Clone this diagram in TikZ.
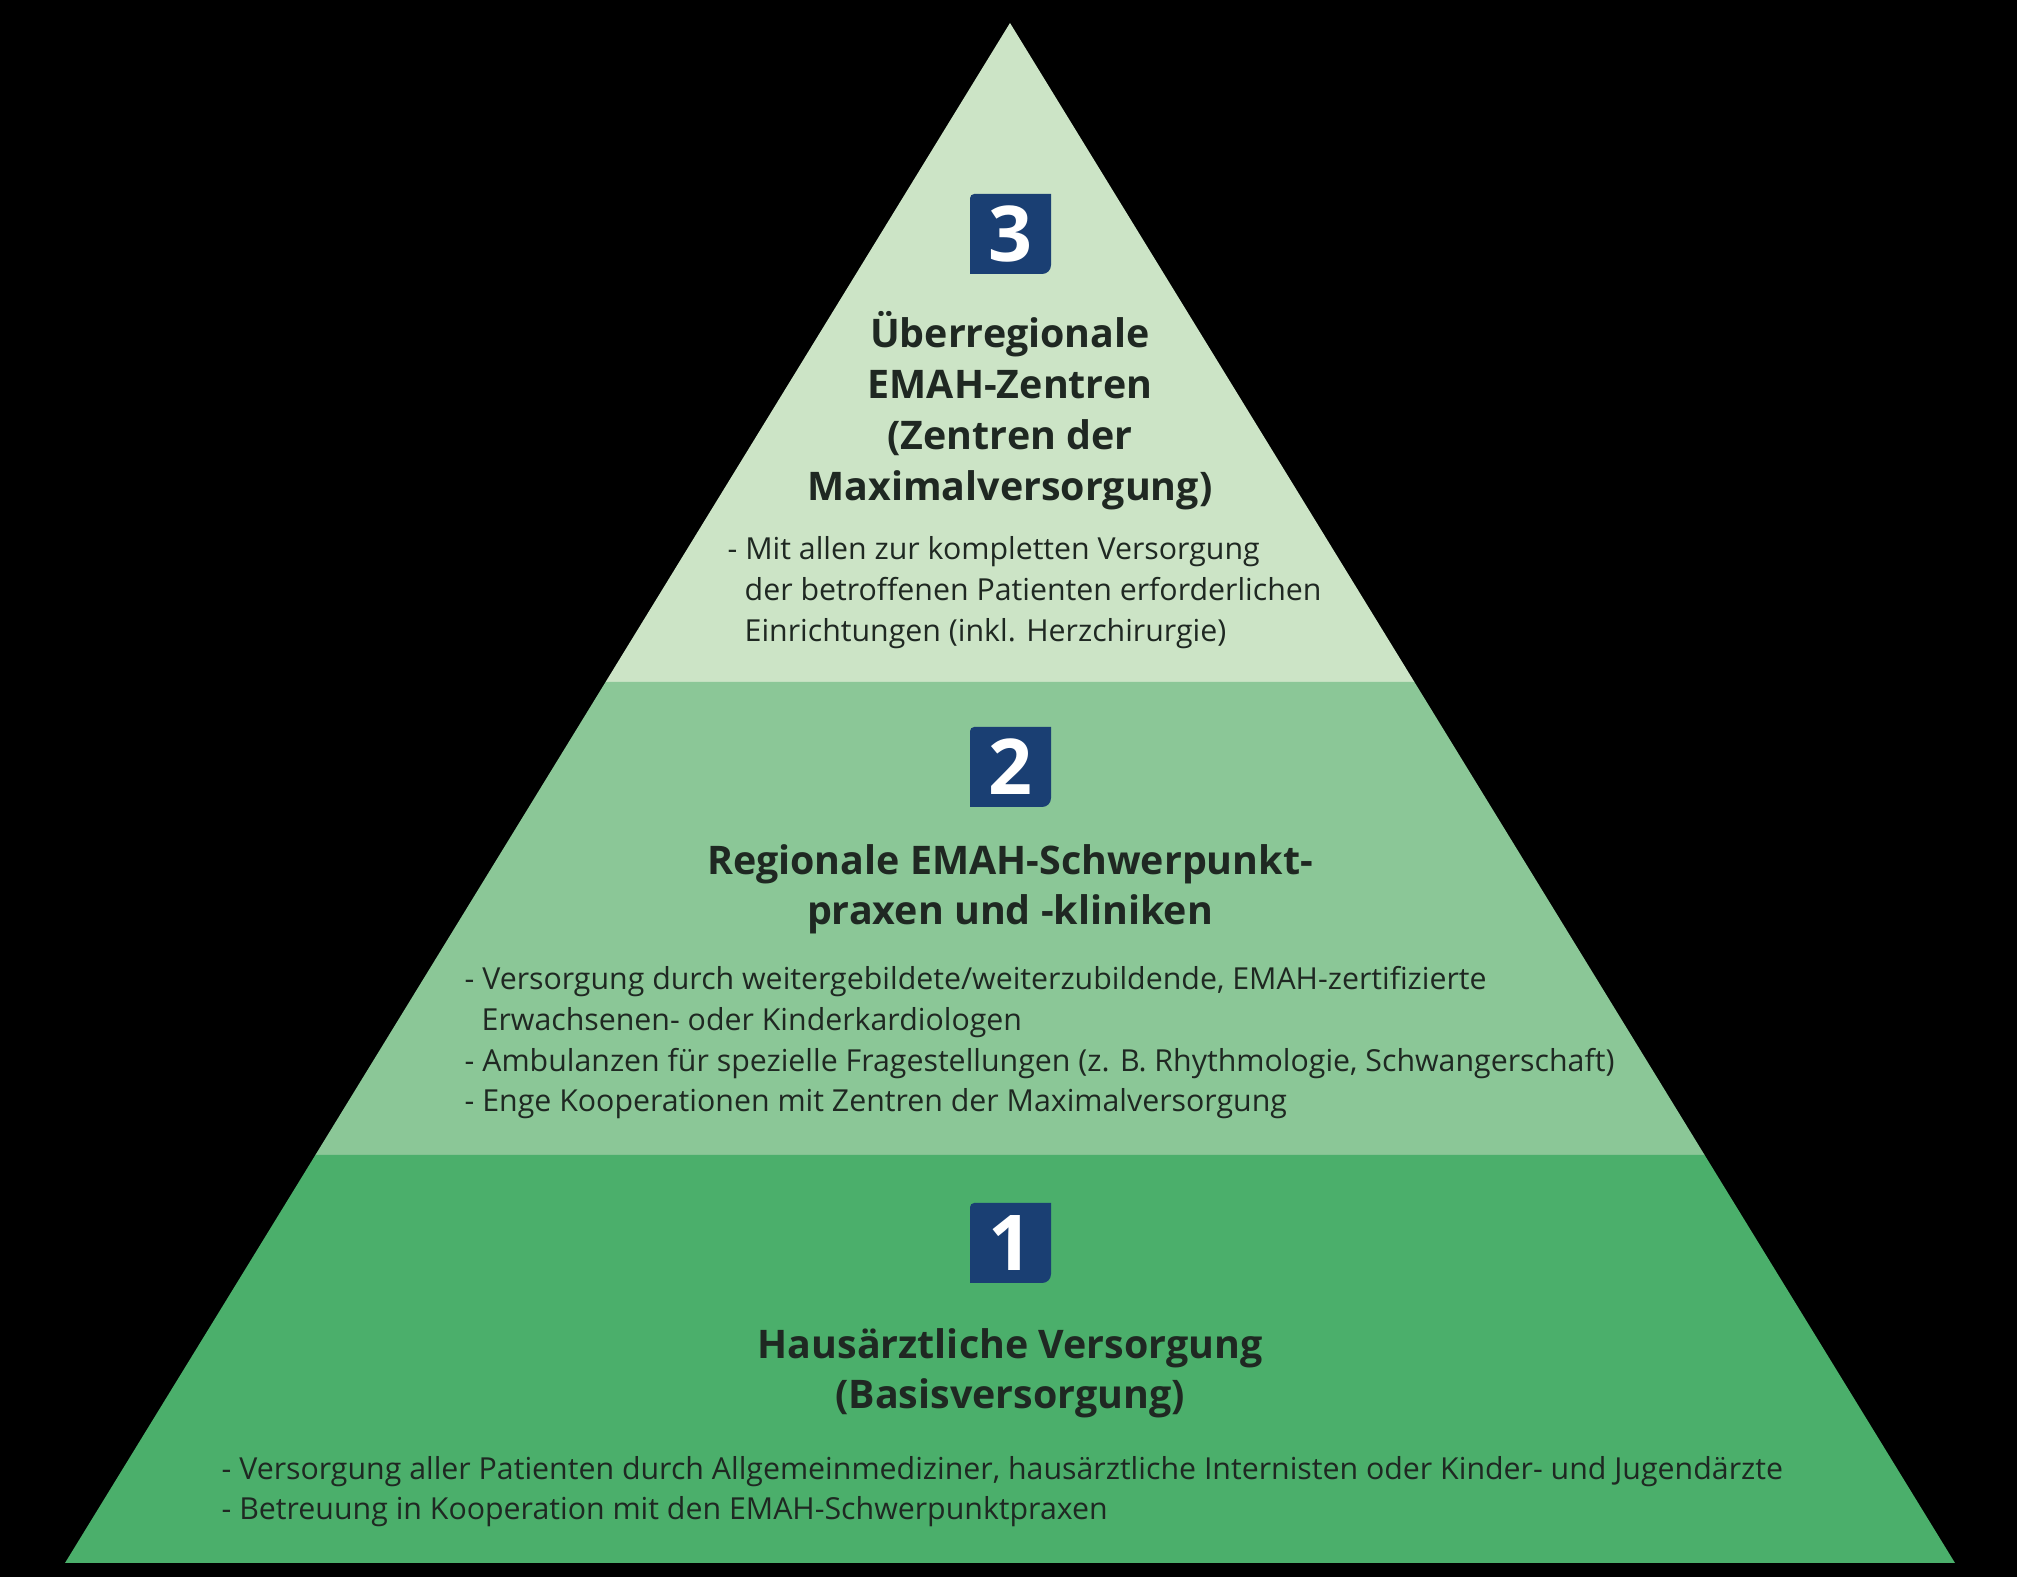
\documentclass[tikz,border=0pt]{standalone}
\usepackage{fontspec}
\setmainfont{Open Sans}
\definecolor{tierA}{HTML}{CCE4C6}
\definecolor{tierB}{HTML}{8BC797}
\definecolor{tierC}{HTML}{4BAF6B}
\definecolor{navy}{HTML}{1A3F73}
\definecolor{ink}{HTML}{1F2822}
\begin{document}
\begin{tikzpicture}[x=0.01cm,y=-0.01cm,
  titletext/.style={anchor=base,inner sep=0pt,text=ink,font=\fontsize{11.2}{13}\selectfont\bfseries},
  bodytext/.style={anchor=base west,inner sep=0pt,text=ink,font=\fontsize{8.62}{10}\selectfont},
  digit/.style={anchor=center,inner sep=0pt,text=white,font=\fontsize{21.9}{24}\selectfont\bfseries},
  badgefill/.style={fill=navy}]
\fill[black] (0,0) rectangle (2017,1577);
\useasboundingbox (0,0) rectangle (2017,1577);
% tiers
\fill[tierA] (1010,23) -- (1414.4,682) -- (605.6,682) -- cycle;
\fill[tierB] (605.6,682) -- (1414.4,682) -- (1704.6,1155) -- (315.4,1155) -- cycle;
\fill[tierC] (315.4,1155) -- (1704.6,1155) -- (1955,1563) -- (65,1563) -- cycle;
% badges
\foreach \t in {194,727,1203}{
  \fill[badgefill] (970,\t+40) [rounded corners=1.2pt] -- (970,\t) [sharp corners] -- (1051,\t) -- (1051,\t+40) [rounded corners=2.5pt] -- (1051,\t+80) [sharp corners] -- (970,\t+80) -- cycle;
}
\node[digit] (d3) at (1010.5,234) {3};
\node[digit] (d2) at (1010.5,767) {2};
\node[digit] (d1) at (1010.5,1243) {1};
% tier 3
\node[titletext] (t3a) at (1010,348) {Überregionale};
\node[titletext] (t3b) at (1010,399) {EMAH-Zentren};
\node[titletext] (t3c) at (1010,450) {(Zentren der};
\node[titletext] (t3d) at (1010,501) {Maximalversorgung)};
\node[bodytext] (b3a) at (727,560) {- Mit allen zur kompletten Versorgung};
\node[bodytext] (b3b) at (744,601) {der betroffenen Patienten erforderlichen};
\node[bodytext] (b3c) at (744,642) {Einrichtungen (inkl. Herzchirurgie)};
% tier 2
\node[titletext] (t2a) at (1010,875) {Regionale EMAH-Schwerpunkt-};
\node[titletext] (t2b) at (1010,925) {praxen und -kliniken};
\node[bodytext] (b2a) at (464,990) {- Versorgung durch weitergebildete/weiterzubildende, EMAH-zertifizierte};
\node[bodytext] (b2b) at (481,1031) {Erwachsenen- oder Kinderkardiologen};
\node[bodytext] (b2c) at (464,1072) {- Ambulanzen für spezielle Fragestellungen (z. B. Rhythmologie, Schwangerschaft)};
\node[bodytext] (b2d) at (464,1112) {- Enge Kooperationen mit Zentren der Maximalversorgung};
% tier 1
\node[titletext] (t1a) at (1010,1359) {Hausärztliche Versorgung};
\node[titletext] (t1b) at (1010,1409) {(Basisversorgung)};
\node[bodytext] (b1a) at (221,1480) {- Versorgung aller Patienten durch Allgemeinmediziner, hausärztliche Internisten oder Kinder- und Jugendärzte};
\node[bodytext] (b1b) at (221,1520) {- Betreuung in Kooperation mit den EMAH-Schwerpunktpraxen};
\end{tikzpicture}
\end{document}
